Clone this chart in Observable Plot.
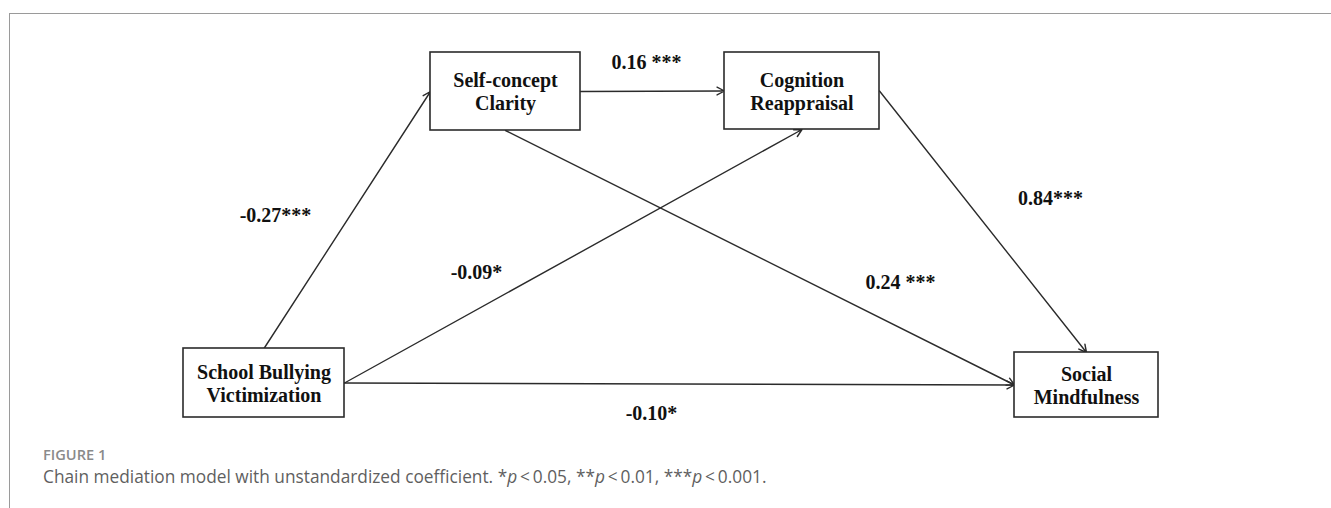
<!DOCTYPE html>
<html>
<head>
<meta charset="utf-8">
<script src="https://cdn.jsdelivr.net/npm/d3@7"></script>
<script src="https://cdn.jsdelivr.net/npm/@observablehq/plot@0.6"></script>
<style>
  html, body { margin: 0; padding: 0; background: #fff; width: 1331px; height: 508px; overflow: hidden; }
  #frame { position: absolute; left: 9px; top: 13px; right: 0; bottom: -2px; border-top: 1px solid #9a9a9a; border-left: 1px solid #9a9a9a; }
  #chart { position: absolute; left: 0; top: 0; }
  #fig { position: absolute; left: 43px; top: 444px; font-family: "Open Sans", sans-serif; font-size: 14.6px; font-weight: 600; color: #8a8a8a; }
  #cap { position: absolute; left: 43px; top: 465px; font-family: "Open Sans", sans-serif; font-size: 17.3px; font-weight: 400; color: #5f5f5f; white-space: nowrap; }
  #cap i { font-style: italic; }
</style>
</head>
<body>
<div id="frame"></div>
<div id="chart"></div>
<div id="fig">FIGURE 1</div>
<div id="cap">Chain mediation model with unstandardized coefficient. *<i>p</i>&#8201;&lt;&#8201;0.05, **<i>p</i>&#8201;&lt;&#8201;0.01, ***<i>p</i>&#8201;&lt;&#8201;0.001.</div>
<script>
// Nodes of the path diagram (centres and box extents in diagram units)
const nodeIds   = ["SBV", "SCC", "CR", "SM"];
const nodeNames = ["School Bullying\nVictimization", "Self-concept\nClarity", "Cognition\nReappraisal", "Social\nMindfulness"];
const nodeX     = [263.5, 505, 801.5, 1086];
const nodeY     = [382.5, 91, 90.5, 384.5];
const nodeW     = [161, 150, 155, 144];
const nodeH     = [69, 78, 77, 65];

// Paths: source node/side -> target node/side, with coefficients
const pathFrom     = ["SBV", "SBV", "SBV", "SCC", "SCC", "CR"];
const pathFromSide = ["top", "right", "right", "right", "bottom", "right"];
const pathTo       = ["SCC", "CR", "SM", "CR", "SM", "SM"];
const pathToSide   = ["left", "bottom", "left", "left", "left", "top"];
const coefs        = ["-0.27***", "-0.09*", "-0.10*", "0.16 ***", "0.24 ***", "0.84***"];
const labelX       = [275, 476, 651, 646, 900, 1050];
const labelY       = [215, 272, 413, 62, 282, 198];

const nodes = nodeIds.map((id, i) => ({id, name: nodeNames[i], x: nodeX[i], y: nodeY[i], w: nodeW[i], h: nodeH[i]}));
const byId = new Map(nodes.map(n => [n.id, n]));
function anchor(n, side) {
  if (side === "top") return [n.x, n.y - n.h / 2];
  if (side === "bottom") return [n.x, n.y + n.h / 2];
  if (side === "left") return [n.x - n.w / 2, n.y];
  return [n.x + n.w / 2, n.y];
}
const edges = pathFrom.map((f, i) => {
  const [x1, y1] = anchor(byId.get(f), pathFromSide[i]);
  const [x2, y2] = anchor(byId.get(pathTo[i]), pathToSide[i]);
  return {x1, y1, x2, y2, label: coefs[i], lx: labelX[i], ly: labelY[i]};
});

const serif = "'Liberation Serif', 'Times New Roman', serif";

const chart = Plot.plot({
  width: 1331,
  height: 440,
  margin: 0,
  x: {domain: [0, 1331], range: [0, 1331], axis: null},
  y: {domain: [0, 440], range: [0, 440], axis: null},
  style: {background: "transparent"},
  marks: [
    Plot.arrow(edges, {x1: "x1", y1: "y1", x2: "x2", y2: "y2", stroke: "#2b2b2b", strokeWidth: 1.4, headLength: 9, headAngle: 55, inset: 0}),
    Plot.rect(nodes, {x1: d => d.x - d.w / 2, x2: d => d.x + d.w / 2, y1: d => d.y - d.h / 2, y2: d => d.y + d.h / 2, fill: "white", stroke: "#2b2b2b", strokeWidth: 1.6}),
    Plot.text(nodes, {x: "x", y: "y", text: "name", fontFamily: serif, fontWeight: "bold", fontSize: 20, lineHeight: 1.15, fill: "#111"}),
    Plot.text(edges, {x: "lx", y: "ly", text: "label", fontFamily: serif, fontWeight: "bold", fontSize: 20, fill: "#111"})
  ]
});
document.getElementById("chart").appendChild(chart);
</script>
</body>
</html>
